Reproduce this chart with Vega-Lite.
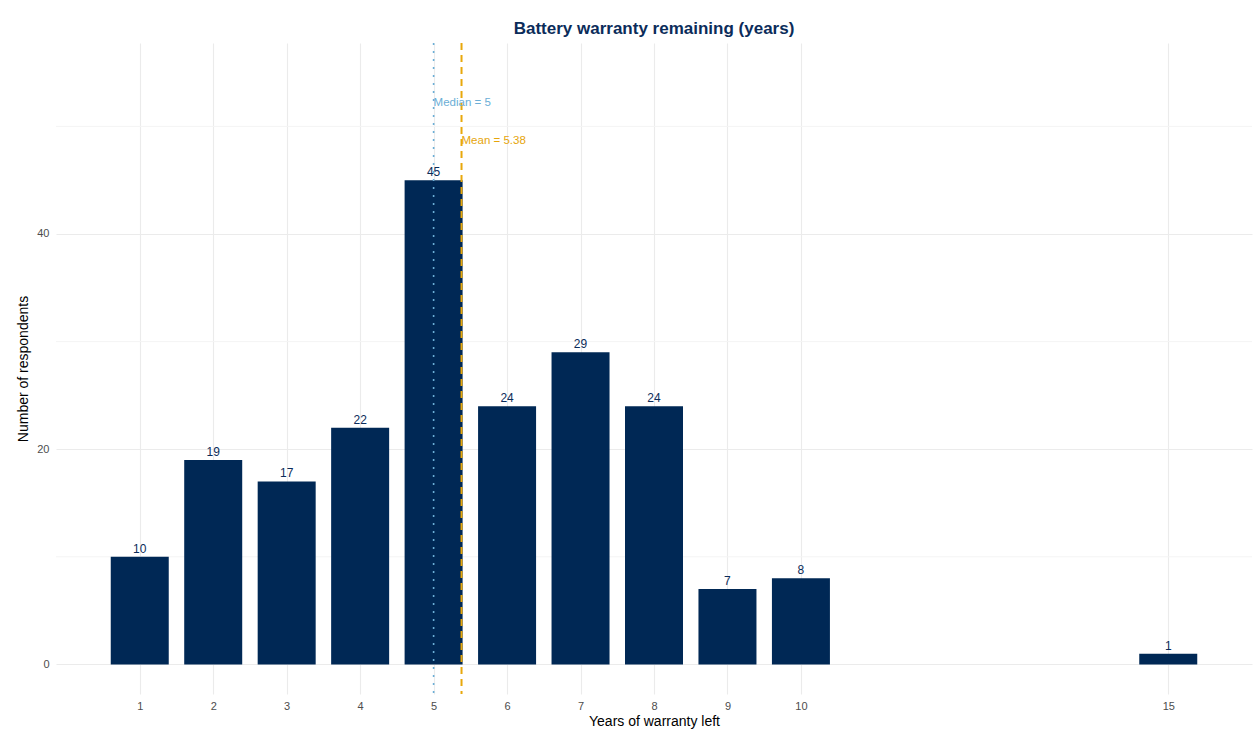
{
  "$schema": "https://vega.github.io/schema/vega-lite/v6.json",
  "width": 1196,
  "height": 651,
  "autosize": {"type": "none"},
  "padding": {"left": 56, "top": 43, "right": 2, "bottom": 35},
  "background": "white",
  "config": {
    "view": {"stroke": null},
    "font": "Liberation Sans",
    "axis": {"gridColor": "#EBEBEB", "gridWidth": 1.1, "domain": false, "ticks": false, "labelColor": "#4D4D4D", "labelFontSize": 11, "titleFontSize": 14, "titleFontWeight": "normal", "titleColor": "#000000"}
  },
  "title": {"text": "Battery warranty remaining (years)", "fontSize": 17, "fontWeight": "bold", "color": "#0B2C5A", "anchor": "middle", "frame": "group", "offset": 4},
  "datasets": {
    "counts": [
      {"years": 1, "n": 10}, {"years": 2, "n": 19}, {"years": 3, "n": 17}, {"years": 4, "n": 22},
      {"years": 5, "n": 45}, {"years": 6, "n": 24}, {"years": 7, "n": 29}, {"years": 8, "n": 24},
      {"years": 9, "n": 7}, {"years": 10, "n": 8}, {"years": 15, "n": 1}
    ],
    "minor": [{"v": 10}, {"v": 30}, {"v": 50}],
    "stats": [
      {"label": "Median = 5", "x": 5, "y": 52.2, "kind": "median"},
      {"label": "Mean = 5.38", "x": 5.38, "y": 48.6, "kind": "mean"}
    ]
  },
  "layer": [
    {
      "data": {"name": "minor"},
      "mark": {"type": "rule", "color": "#F4F4F4", "strokeWidth": 1},
      "encoding": {
        "y": {"field": "v", "type": "quantitative", "scale": {"domain": [-2.75, 57.75], "nice": false, "zero": false}}
      }
    },
    {
      "data": {"name": "counts"},
      "mark": {"type": "bar", "color": "#002855", "width": 58},
      "encoding": {
        "x": {"field": "years", "type": "quantitative", "scale": {"domain": [-0.14, 16.14], "nice": false, "zero": false, "padding": 0},
              "axis": {"values": [1,2,3,4,5,6,7,8,9,10,15], "format": "d", "title": "Years of warranty left", "labelPadding": 6, "titlePadding": 3, "grid": true}},
        "y": {"field": "n", "type": "quantitative", "scale": {"domain": [-2.75, 57.75], "nice": false, "zero": false, "padding": 0},
              "axis": {"values": [0, 20, 40], "title": "Number of respondents", "labelPadding": 7, "titlePadding": 6, "grid": true}},
        "y2": {"datum": 0}
      }
    },
    {
      "data": {"name": "counts"},
      "mark": {"type": "text", "color": "#0B2C5A", "fontSize": 12, "baseline": "bottom", "dy": -1},
      "encoding": {
        "x": {"field": "years", "type": "quantitative"},
        "y": {"field": "n", "type": "quantitative"},
        "text": {"field": "n", "type": "quantitative"}
      }
    },
    {
      "data": {"name": "stats"},
      "transform": [{"filter": "datum.kind === 'median'"}],
      "mark": {"type": "rule", "color": "#6BAED6", "strokeWidth": 1.6, "strokeDash": [2, 6]},
      "encoding": {"x": {"field": "x", "type": "quantitative"}}
    },
    {
      "data": {"name": "stats"},
      "transform": [{"filter": "datum.kind === 'mean'"}],
      "mark": {"type": "rule", "color": "#E8A80C", "strokeWidth": 2, "strokeDash": [7, 5]},
      "encoding": {"x": {"field": "x", "type": "quantitative"}}
    },
    {
      "data": {"name": "stats"},
      "mark": {"type": "text", "align": "left", "baseline": "middle", "fontSize": 11.5},
      "encoding": {
        "x": {"field": "x", "type": "quantitative"},
        "y": {"field": "y", "type": "quantitative"},
        "text": {"field": "label", "type": "nominal"},
        "color": {"field": "kind", "type": "nominal", "scale": {"domain": ["median", "mean"], "range": ["#6BAED6", "#E6A50A"]}, "legend": null}
      }
    }
  ]
}
